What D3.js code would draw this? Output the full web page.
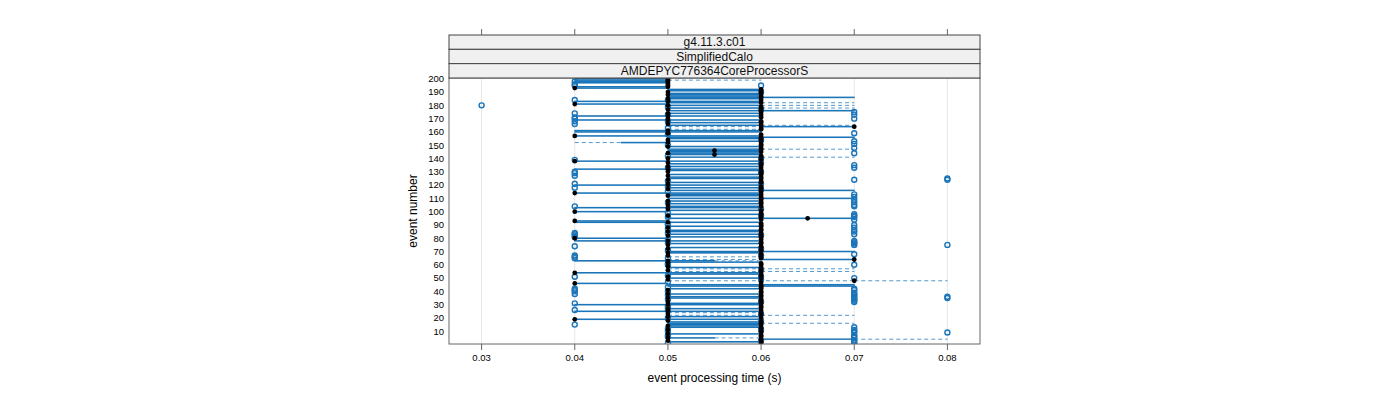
<!DOCTYPE html>
<html><head><meta charset="utf-8">
<script src="https://cdn.jsdelivr.net/npm/d3@7"></script>
<style>body{margin:0;background:#fff}svg{font-family:"Liberation Sans",Arial,sans-serif}</style>
</head><body><svg id="c" width="1400" height="400"></svg>
<script>
// event numbers 1..200 (categories)
const eventNumbers = d3.range(1, 201);
const yTickLabels = [10,20,30,40,50,60,70,80,90,100,110,120,130,140,150,160,170,180,190,200];
const xTickValues = [0.03,0.04,0.05,0.06,0.07,0.08];
const xTickLabels = ["0.03","0.04","0.05","0.06","0.07","0.08"];
const stripLabels = ["g4.11.3.c01","SimplifiedCalo","AMDEPYC776364CoreProcessorS"];

// per-event box statistics in milliseconds (event 1 first)
const whiskerLowMs = [
60,50,50,60,50,60,60,50,60,60, 50,60,50,50,50,50,50,50,40,60,
50,50,50,50,40,60,50,60,60,40, 50,50,60,60,50,50,60,50,60,60,
50,50,60,50,50,40,60,50,50,50, 50,60,50,40,50,50,50,50,50,60,
60,50,40,50,60,50,50,60,50,50, 60,50,50,60,50,50,60,40,60,40,
50,50,50,60,50,50,60,50,50,60, 60,40,40,60,50,60,50,50,60,40,
50,50,40,50,50,50,60,50,60,50, 60,50,50,40,60,50,50,50,60,40,
50,50,60,50,50,50,50,50,60,50, 50,40,60,50,60,50,50,40,60,50,
50,60,50,50,50,50,50,60,50,60, 60,40,50,50,50,50,40,60,50,40,
40,50,60,50,50,50,50,60,40,50, 60,40,60,50,60,50,50,50,60,50,
40,50,40,60,50,50,50,50,50,50, 50,50,40,40,50,50,40,40,40,40];
const hingeLowMs = [
60,50,50,60,50,60,60,50,60,60, 50,60,50,50,50,50,50,50,40,60,
50,60,50,60,40,60,50,60,60,40, 50,50,60,60,50,50,60,50,60,60,
50,50,60,50,50,40,60,70,50,50, 50,60,50,40,60,50,60,50,50,60,
60,50,40,60,60,60,50,60,50,50, 60,50,50,60,50,50,60,40,60,40,
50,50,50,60,50,50,60,50,50,60, 60,40,40,60,50,60,50,50,60,40,
50,50,40,50,50,50,60,50,60,50, 60,50,50,40,60,50,50,50,60,40,
50,50,60,50,50,50,50,50,60,50, 50,40,60,50,60,50,50,40,60,50,
50,60,50,50,50,50,50,60,50,60, 60,45,50,50,50,50,40,60,50,40,
40,60,60,60,50,50,50,60,40,50, 60,40,60,50,60,50,50,50,60,50,
40,50,40,60,50,50,50,50,50,50, 50,50,40,40,50,50,40,40,40,40];
const medianMs = [
60,60,50,60,50,60,60,50,60,60, 50,60,60,50,60,60,60,50,40,60,
50,60,50,60,50,60,50,60,60,50, 60,50,60,60,50,60,60,50,60,60,
50,60,60,60,60,40,60,70,50,60, 50,60,60,40,60,50,60,60,50,60,
60,50,50,70,60,60,50,60,50,60, 60,50,60,60,50,60,60,50,60,40,
60,50,60,60,50,60,60,50,60,60, 60,50,40,60,65,60,50,60,60,40,
60,50,50,60,50,60,60,50,60,60, 60,50,60,40,60,60,50,60,60,50,
50,60,60,50,60,60,50,60,60,50, 60,50,60,50,60,60,50,40,60,50,
60,60,55,50,60,55,60,60,50,60, 60,50,60,50,60,60,40,60,50,50,
50,60,60,70,60,50,60,60,50,50, 60,50,60,50,60,60,50,60,60,50,
40,60,50,60,50,60,60,50,60,50, 60,60,40,50,50,50,50,50,50,50];
const hingeHighMs = [
60,60,50,70,55,60,60,60,60,60, 50,60,60,60,60,60,60,50,60,60,
60,60,50,60,60,60,60,60,60,60, 60,50,60,60,60,60,60,60,60,60,
50,60,60,70,70,50,60,70,50,60, 50,60,60,60,60,50,60,60,50,60,
60,60,55,70,60,60,50,60,60,70, 60,50,60,60,50,60,60,60,60,50,
60,50,60,60,60,60,60,50,60,60, 60,60,50,60,70,60,50,60,60,50,
60,50,60,60,50,60,60,60,60,70, 60,60,60,60,60,70,50,60,60,60,
50,60,60,50,60,60,50,60,60,50, 60,60,60,60,60,60,50,60,60,50,
60,60,60,60,60,60,60,60,60,60, 60,50,60,50,60,70,60,60,50,60,
60,60,60,70,60,50,60,60,60,50, 60,60,60,60,60,70,50,60,60,60,
50,60,60,60,60,70,60,60,60,50, 60,60,50,50,50,50,50,50,50,50];
const whiskerHighMs = [
60,60,50,80,60,60,60,60,60,60, 50,60,60,60,60,70,60,50,60,60,
60,70,50,60,60,60,60,60,60,60, 60,50,60,60,60,60,60,60,60,60,
50,60,60,70,70,50,60,80,50,60, 50,60,60,60,70,50,70,60,50,60,
60,60,60,70,60,60,50,60,60,70, 60,50,60,60,50,60,60,60,60,50,
60,50,60,60,60,60,60,50,60,60, 60,60,50,60,70,60,50,60,60,50,
60,50,60,60,50,60,60,60,60,70, 60,60,60,60,60,70,50,60,60,60,
50,60,60,50,60,60,50,60,60,50, 60,60,60,60,60,60,50,60,60,50,
70,60,60,60,60,60,70,60,60,60, 60,50,60,50,60,70,60,60,50,60,
60,60,60,70,70,50,60,60,60,50, 60,60,60,60,60,70,50,70,60,70,
50,70,60,60,60,70,60,60,60,50, 60,60,50,50,50,50,50,50,60,50];
// outliers: [event, ms]
const outliersMs = [
[1,50],[1,70],[2,70],[3,60],[3,70],[5,70],[6,50],[6,70],[7,70],[7,50],[9,80],[9,70],[10,50],[10,70],
[11,70],[11,60],[12,50],[13,70],[15,40],[18,60],[20,50],
[23,60],[26,40],[26,50],[28,50],[29,50],
[31,40],[32,70],[32,60],[33,70],[34,50],[34,70],[35,80],[35,70],[36,80],[36,70],[37,70],[37,50],[38,40],[38,70],[39,70],[40,40],[40,50],
[41,40],[41,70],[42,40],[42,70],[43,50],[47,50],[49,60],[50,70],
[51,40],[51,60],[52,50],[56,60],[60,70],[60,50],
[61,50],[65,40],[65,50],[66,40],[67,40],[67,60],[68,70],
[71,50],[72,60],[74,40],[75,80],[75,70],[76,70],[77,50],[77,70],[78,70],[79,50],
[81,40],[82,40],[82,60],[83,40],[83,70],[84,40],[84,50],[85,70],[86,70],[87,50],[88,70],[90,50],[90,70],
[91,50],[94,70],[96,70],[96,50],[97,70],[97,60],[98,70],[99,50],
[102,60],[104,40],[104,70],[105,70],[107,70],[107,50],[109,70],
[111,70],[113,70],[115,50],[117,60],[118,40],[119,50],
[121,40],[121,60],[123,50],[124,70],[124,80],[125,80],[127,40],[129,40],[130,40],[130,60],
[133,70],[133,50],[135,70],[137,60],[139,40],[140,60],
[142,50],[144,70],[148,70],[150,50],
[151,70],[153,70],[154,60],[158,50],[159,70],
[163,50],[166,40],[168,40],[168,50],[170,40],[170,70],
[171,40],[173,70],[173,50],[174,40],[175,70],[177,60],[179,50],[180,30],
[184,40],[184,50],[190,60],
[195,40],[195,60],[196,40],[198,40]];

const svg = d3.select("#c");
const L = 449, R = 980, T = 78, B = 344;
const x = d3.scaleLinear().domain([0.0265, 0.0835]).range([L, R]);
const y = d3.scaleLinear().domain([0.4, 200.6]).range([B, T]);
const blue = "#1b75b9";
const s = v => v / 1000;

const rows = eventNumbers.map((e, i) => ({e, wl: s(whiskerLowMs[i]), q1: s(hingeLowMs[i]), med: s(medianMs[i]), q3: s(hingeHighMs[i]), wh: s(whiskerHighMs[i])}));

svg.append("defs").append("clipPath").attr("id","clip").append("rect")
  .attr("x", L).attr("y", T).attr("width", R - L).attr("height", B - T);

// grid
svg.append("g").selectAll("line").data(xTickValues).join("line")
  .attr("x1", d => x(d)).attr("x2", d => x(d)).attr("y1", T).attr("y2", B)
  .attr("stroke", "#e6e6e6").attr("stroke-width", 1);

const g = svg.append("g").attr("clip-path", "url(#clip)");
const hh = (y(0) - y(0.5)) / 2;
// whiskers
const wk = [];
rows.forEach(r => {
  if (r.wl < r.q1) wk.push([r.e, r.wl, r.q1]);
  if (r.wh > r.q3) wk.push([r.e, r.q3, r.wh]);
});
g.append("g").selectAll("line").data(wk).join("line")
  .attr("x1", d => x(d[1])).attr("x2", d => x(d[2]))
  .attr("y1", d => y(d[0])).attr("y2", d => y(d[0]))
  .attr("stroke", blue).attr("stroke-opacity", 0.75).attr("stroke-width", 1).attr("stroke-dasharray", "4,3");
// boxes
g.append("g").selectAll("rect").data(rows.filter(r => r.q3 > r.q1)).join("rect")
  .attr("x", d => x(d.q1)).attr("width", d => x(d.q3) - x(d.q1))
  .attr("y", d => y(d.e) - hh).attr("height", 2 * hh)
  .attr("fill", "none").attr("stroke", blue).attr("stroke-width", 0.9);
// outliers
g.append("g").selectAll("circle").data(outliersMs).join("circle")
  .attr("cx", d => x(s(d[1]))).attr("cy", d => y(d[0])).attr("r", 2.5)
  .attr("fill", "none").attr("stroke", blue).attr("stroke-width", 1.4);
// medians
g.append("g").selectAll("circle").data(rows).join("circle")
  .attr("cx", d => x(d.med)).attr("cy", d => y(d.e)).attr("r", 2.4)
  .attr("fill", "#000");

// panel border
svg.append("rect").attr("x", L).attr("y", T).attr("width", R - L).attr("height", B - T)
  .attr("fill", "none").attr("stroke", "#666").attr("stroke-width", 1);

// strips
const sh = 14.33, st = 35;
stripLabels.forEach((lab, i) => {
  const yy = st + i * sh;
  svg.append("rect").attr("x", L).attr("y", yy).attr("width", R - L).attr("height", sh)
    .attr("fill", "#f0f0f0").attr("stroke", "#444").attr("stroke-width", 1);
  svg.append("text").attr("x", (L + R) / 2).attr("y", yy + sh / 2 + 4.2)
    .attr("text-anchor", "middle").attr("font-size", 12).attr("fill", "#111").text(lab);
});

// x axis bottom
const xb = svg.append("g");
xb.selectAll("line").data(xTickValues).join("line")
  .attr("x1", d => x(d)).attr("x2", d => x(d)).attr("y1", B).attr("y2", B + 6)
  .attr("stroke", "#666");
xb.selectAll("text").data(xTickValues).join("text")
  .attr("x", d => x(d)).attr("y", 361).attr("text-anchor", "middle")
  .attr("font-size", 9.5).text((d, i) => xTickLabels[i]);
// top ticks
svg.append("g").selectAll("line").data(xTickValues).join("line")
  .attr("x1", d => x(d)).attr("x2", d => x(d)).attr("y1", st - 6).attr("y2", st)
  .attr("stroke", "#666");
// y axis labels
svg.append("g").selectAll("text").data(yTickLabels).join("text")
  .attr("x", 444).attr("y", d => y(d) + 3.4).attr("text-anchor", "end")
  .attr("font-size", 9.5).text(d => d);

svg.append("text").attr("x", (L + R) / 2).attr("y", 382).attr("text-anchor", "middle")
  .attr("font-size", 12).text("event processing time (s)");
svg.append("text").attr("transform", "translate(417," + ((T + B) / 2) + ") rotate(-90)")
  .attr("text-anchor", "middle").attr("font-size", 12).text("event number");
</script></body></html>
